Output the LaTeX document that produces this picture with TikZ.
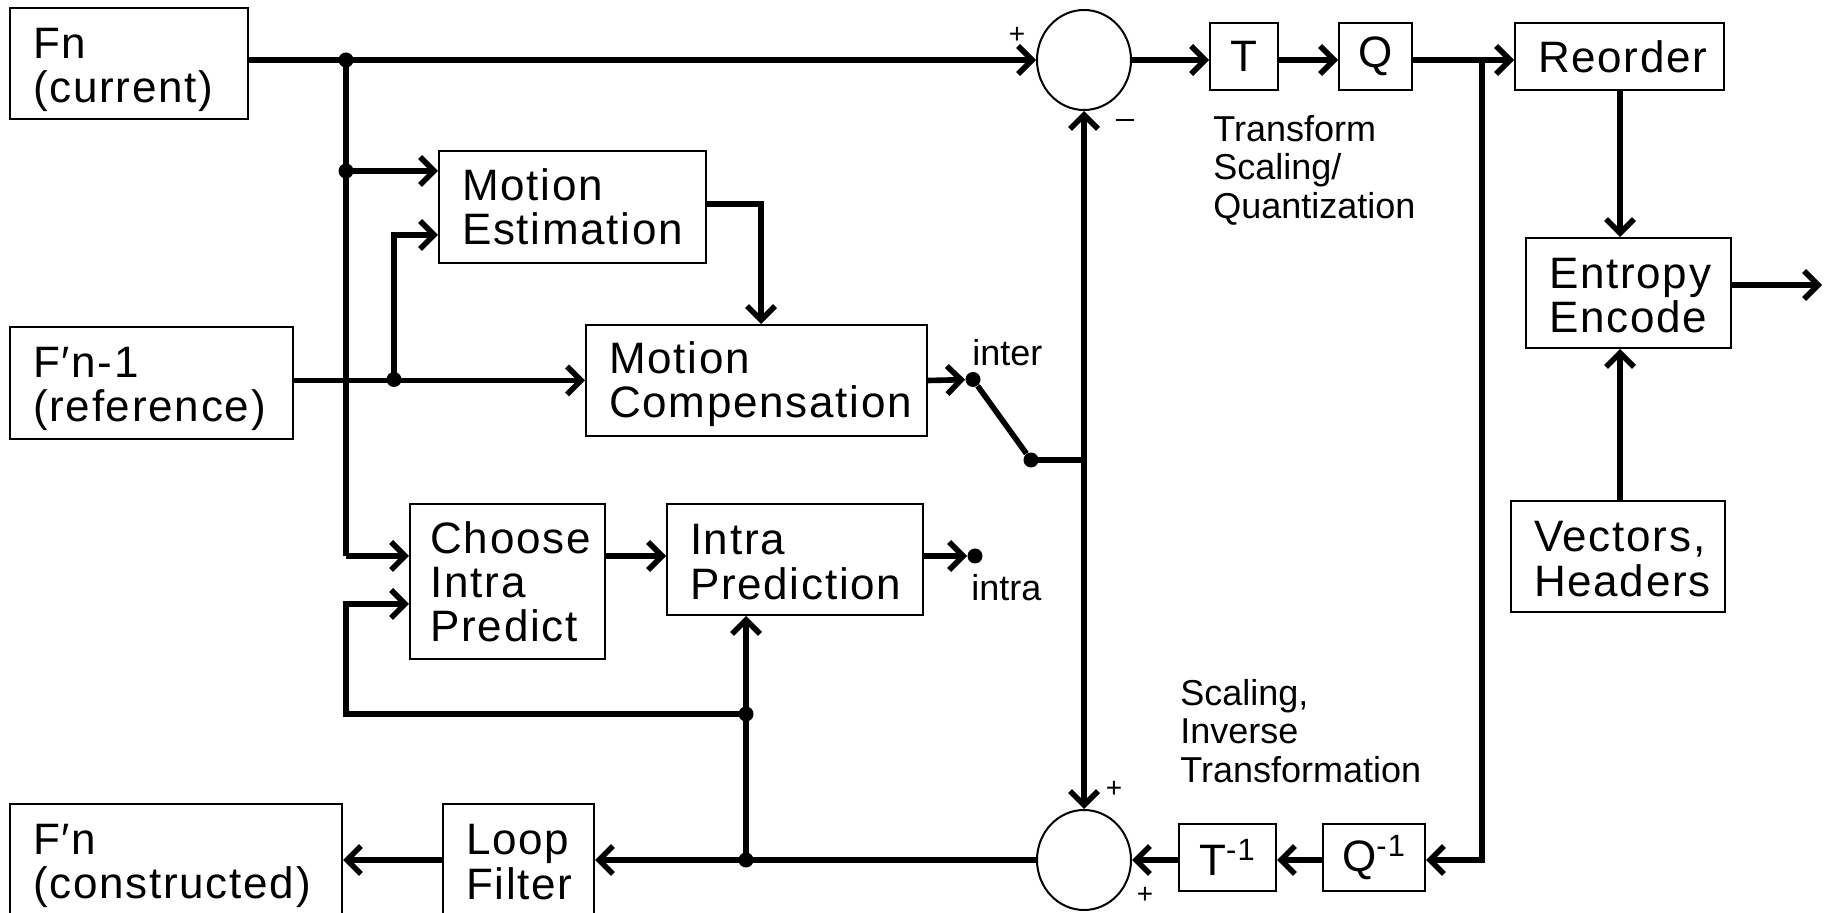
\documentclass[tikz,border=0pt]{standalone}
\usepackage{fontspec}
\setmainfont{Liberation Sans}
\newfontfamily\boxfont[LetterSpace=4]{Liberation Sans}
\usetikzlibrary{arrows.meta,shapes.geometric}
\begin{document}
\begin{tikzpicture}[x=0.5pt,y=-0.5pt,
  box/.style={draw, line width=1pt, align=left, inner xsep=11.5pt, inner ysep=0pt, font=\boxfont\fontsize{22}{22.1}\selectfont, anchor=north west},
  cbox/.style={draw, line width=1pt, align=center, inner sep=0pt, font=\boxfont\fontsize{22}{22.1}\selectfont, anchor=north west},
  tdown/.style={execute at begin node={\rule{0pt}{#1}}},
  sum/.style={draw, ellipse, line width=1pt, minimum width=47pt, minimum height=50pt, inner sep=0pt},
  conn/.style={line width=2.8pt},
  arr/.style={conn, -{Straight Barb[length=7pt,width=14pt]}},
  dot/.style={circle, fill, inner sep=0pt, minimum size=7.5pt},
  lbl/.style={font=\fontsize{18}{19.25}\selectfont, align=left, inner sep=0pt},
  sgn/.style={font=\fontsize{14}{14}\selectfont, inner sep=0pt},
  minus/.style={fill, inner sep=0pt, minimum width=9pt, minimum height=1pt}
]
\clip (0,0) rectangle (1827,913);
\fill[white] (0,0) rectangle (1827,913);

% boxes
\node[box, tdown=21.8pt, text width=96pt, minimum height=55.5pt] (Fn) at (9,7) {Fn\\(current)};
\node[box, tdown=20.8pt, text width=118.5pt, minimum height=56pt] (Fref) at (9,326) {F′n-1\\(reference)};
\node[box, text width=110.5pt, minimum height=56pt] (ME) at (438,150) {Motion\\Estimation};
\node[box, tdown=19.8pt, text width=147.5pt, minimum height=55.5pt] (MC) at (585,324) {Motion\\Compensation};
\node[box, text width=77pt, inner xsep=10.25pt, minimum height=77.5pt] (Choose) at (409,503) {Choose\\Intra\\Predict};
\node[box, tdown=17.8pt, text width=105pt, minimum height=55.5pt] (IP) at (666,503) {Intra\\Prediction};
\node[box, tdown=18.8pt, text width=143pt, minimum height=58pt] (Fc) at (9,803) {F′n\\(constructed)};
\node[box, text width=52.5pt, minimum height=58pt] (LF) at (442,803) {Loop\\Filter};
\node[cbox, minimum width=34pt, minimum height=33.5pt] (T) at (1209,22) {T};
\node[cbox, minimum width=36.5pt, minimum height=33.5pt] (Q) at (1338,22) {Q};
\node[box, text width=81.5pt, minimum height=33.5pt] (Reorder) at (1514,22) {Reorder};
\node[box, tdown=17.8pt, text width=79.5pt, minimum height=55pt] (Entropy) at (1525,237) {Entropy\\Encode};
\node[box, tdown=17.8pt, text width=84pt, minimum height=55.5pt] (Vectors) at (1510,500) {Vectors,\\Headers};
\node[cbox, minimum width=48.5pt, minimum height=33.5pt] (Ti) at (1178,823) {T\textsuperscript{-1}};
\node[cbox, minimum width=51pt, minimum height=33.5pt] (Qi) at (1322,823) {Q\textsuperscript{-1}};

% summing junctions
\node[sum] (sub) at (1084,60) {};
\node[sum] (add) at (1084,860) {};

% coordinates and dots
\coordinate (j1) at (346,60);
\coordinate (j2) at (346,171);
\coordinate (j3) at (394,379.5);
\coordinate (k) at (394,235);
\coordinate (m) at (761,204);
\coordinate (r) at (0,556);
\coordinate (r2) at (0,604);
\coordinate (j5) at (1084,460);
\coordinate (j6) at (1482,60);
\coordinate (c) at (1620,0);
\coordinate (eo) at (1822,285);
\node[dot] at (j1) {};
\node[dot] at (j2) {};
\node[dot] at (j3) {};
\node[dot] (inter) at (973,379.5) {};
\node[dot] (sw) at (1031,460) {};
\node[dot] (intra) at (975,556) {};
\node[dot] (d1) at (746,714) {};
\node[dot] (d2) at (746,860) {};

% connectors
\draw[arr] (Fn.east |- sub.west) -- (sub.west);
\draw[conn] (j1) -- (r -| j1);
\draw[arr] (r -| j1) -- (r -| Choose.west);
\draw[arr] (j2) -- (j2 -| ME.west);
\draw[arr] (Fref.east |- MC.west) -- (MC.west);
\draw[arr] (j3) -- (k) -- (k -| ME.west);
\draw[arr] (m -| ME.east) -- (m) -- (m |- MC.north);
\draw[arr] (MC.east) -- (inter);
\draw[conn] (inter) -- (sw);
\draw[conn] (sw.center) -- (j5);
\draw[arr] (j5) -- (sub.south);
\draw[arr] (j5) -- (add.north);
\draw[arr] (r -| Choose.east) -- (r -| IP.west);
\draw[arr] (r -| IP.east) -- (intra);
\draw[arr] (d2.center) -- (d2 |- IP.south);
\draw[arr] (d1.center) -- (d1 -| j1) -- (r2 -| j1) -- (r2 -| Choose.west);
\draw[arr] (add.west) -- (add.west -| LF.east);
\draw[arr] (add.west -| LF.west) -- (add.west -| Fc.east);
\draw[arr] (sub.east) -- (sub.east -| T.west);
\draw[arr] (sub.east -| T.east) -- (sub.east -| Q.west);
\draw[arr] (sub.east -| Q.east) -- (sub.east -| Reorder.west);
\draw[arr] (j6) -- (j6 |- add.east) -- (add.east -| Qi.east);
\draw[arr] (add.east -| Qi.west) -- (add.east -| Ti.east);
\draw[arr] (add.east -| Ti.west) -- (add.east);
\draw[arr] (c |- Reorder.south) -- (c |- Entropy.north);
\draw[arr] (c |- Vectors.north) -- (c |- Entropy.south);
\draw[arr] (eo -| Entropy.east) -- (eo);

% labels
\node[lbl, anchor=west] (tl) at (1213,170) {Transform\\Scaling/\\Quantization};
\node[lbl, anchor=west] (sl) at (1180,731) {Scaling,\\Inverse\\Transformation};
\node[lbl, anchor=west] (linter) at (972,353) {inter};
\node[lbl, anchor=west] (lintra) at (971,588) {intra};
\node[sgn] (p1) at (1017,35) {+};
\node[minus] (m1) at (1125,120) {};
\node[sgn] (p2) at (1114,789) {+};
\node[sgn] (p3) at (1145,895) {+};
\end{tikzpicture}
\end{document}
